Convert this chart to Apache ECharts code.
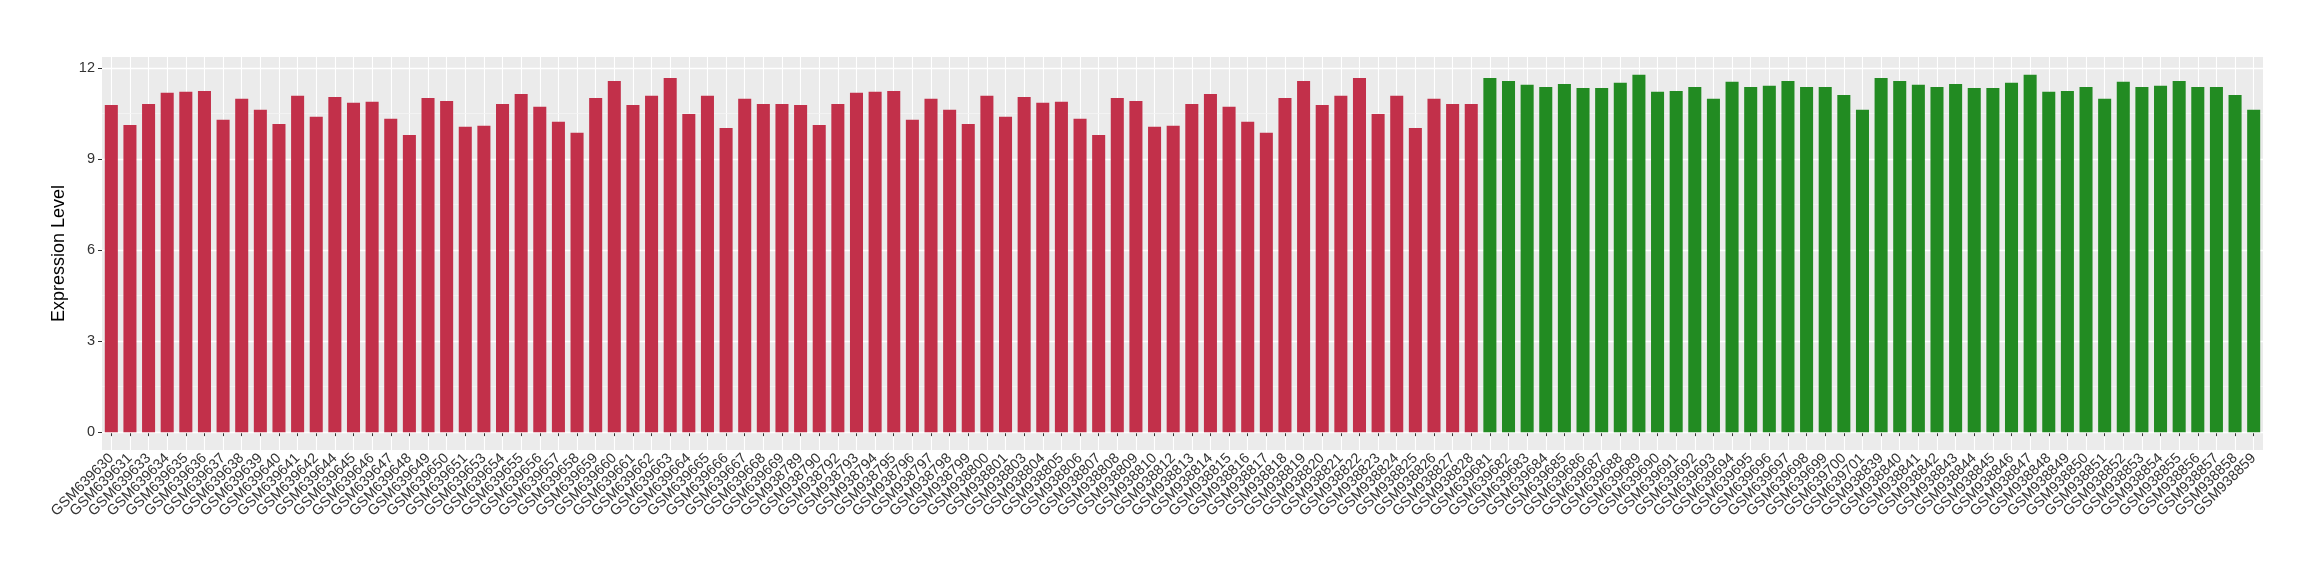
<!DOCTYPE html>
<html>
<head>
<meta charset="utf-8">
<script src="https://cdn.jsdelivr.net/npm/echarts@6/dist/echarts.min.js"></script>
<style>
html,body{margin:0;padding:0;background:#fff;}
#chart{width:2320px;height:580px;}
</style>
</head>
<body>
<div id="chart"></div>
<script>
const redCategories = [
 "GSM639630","GSM639631","GSM639633","GSM639634","GSM639635","GSM639636","GSM639637","GSM639638","GSM639639","GSM639640",
 "GSM639641","GSM639642","GSM639644","GSM639645","GSM639646","GSM639647","GSM639648","GSM639649","GSM639650","GSM639651",
 "GSM639653","GSM639654","GSM639655","GSM639656","GSM639657","GSM639658","GSM639659","GSM639660","GSM639661","GSM639662",
 "GSM639663","GSM639664","GSM639665","GSM639666","GSM639667","GSM639668","GSM639669",
 "GSM938789","GSM938790","GSM938792","GSM938793","GSM938794","GSM938795","GSM938796","GSM938797","GSM938798","GSM938799",
 "GSM938800","GSM938801","GSM938803","GSM938804","GSM938805","GSM938806","GSM938807","GSM938808","GSM938809","GSM938810",
 "GSM938812","GSM938813","GSM938814","GSM938815","GSM938816","GSM938817","GSM938818","GSM938819","GSM938820","GSM938821",
 "GSM938822","GSM938823","GSM938824","GSM938825","GSM938826","GSM938827","GSM938828"
];
const greenCategories = [
 "GSM639681","GSM639682","GSM639683","GSM639684","GSM639685","GSM639686","GSM639687","GSM639688","GSM639689","GSM639690",
 "GSM639691","GSM639692","GSM639693","GSM639694","GSM639695","GSM639696","GSM639697","GSM639698","GSM639699","GSM639700","GSM639701",
 "GSM938839","GSM938840","GSM938841","GSM938842","GSM938843","GSM938844","GSM938845","GSM938846","GSM938847","GSM938848",
 "GSM938849","GSM938850","GSM938851","GSM938852","GSM938853","GSM938854","GSM938855","GSM938856","GSM938857","GSM938858","GSM938859"
];
const redValues = [
 10.79,10.13,10.82,11.19,11.22,11.25,10.30,10.99,10.63,10.16,
 11.09,10.40,11.05,10.86,10.89,10.33,9.80,11.02,10.92,10.07,
 10.10,10.82,11.15,10.73,10.23,9.87,11.02,11.58,10.79,11.09,
 11.68,10.49,11.09,10.03,10.99,10.82,10.82,
 10.79,10.13,10.82,11.19,11.22,11.25,10.30,10.99,10.63,10.16,
 11.09,10.40,11.05,10.86,10.89,10.33,9.80,11.02,10.92,10.07,
 10.10,10.82,11.15,10.73,10.23,9.87,11.02,11.58,10.79,11.09,
 11.68,10.49,11.09,10.03,10.99,10.82,10.82
];
const greenValues = [
 11.68,11.58,11.45,11.38,11.48,11.35,11.35,11.52,11.78,11.22,
 11.25,11.38,10.99,11.55,11.38,11.42,11.58,11.38,11.38,11.12,10.63,
 11.68,11.58,11.45,11.38,11.48,11.35,11.35,11.52,11.78,11.22,
 11.25,11.38,10.99,11.55,11.38,11.42,11.58,11.38,11.38,11.12,10.63
];
const yTicks = [0, 3, 6, 9, 12];
const yMinorLines = [1.5, 4.5, 7.5, 10.5];

const categories = redCategories.concat(greenCategories);
const redData = redValues.concat(greenCategories.map(() => null));
const greenData = redCategories.map(() => null).concat(greenValues);
const allVals = redValues.concat(greenValues);
const vMax = Math.max(...allVals);
const pad = vMax * 0.05;

const FONT = "Liberation Sans, Arial, Helvetica, sans-serif";
const chart = echarts.init(document.getElementById('chart'), null, {renderer: 'canvas'});
chart.setOption({
  animation: false,
  backgroundColor: '#ffffff',
  grid: {
    left: 102, right: 57, top: 57, bottom: 130,
    show: true, backgroundColor: '#EBEBEB', borderWidth: 0
  },
  xAxis: {
    type: 'category',
    data: categories,
    boundaryGap: true,
    axisLine: {show: false},
    axisTick: {show: true, alignWithLabel: true, interval: 0, length: 4, lineStyle: {color: '#333333', width: 1}},
    axisLabel: {interval: 0, rotate: 45, margin: 6, color: '#333333', fontSize: 14.5, fontFamily: FONT},
    splitLine: {show: true, interval: 0, alignWithLabel: true, lineStyle: {color: '#ffffff', width: 1.1}}
  },
  yAxis: {
    type: 'value',
    min: -pad,
    max: vMax + pad,
    name: 'Expression Level',
    nameLocation: 'middle',
    nameGap: 30,
    nameTextStyle: {color: '#000000', fontSize: 18, fontFamily: FONT},
    axisLine: {show: false},
    axisTick: {show: true, customValues: yTicks, length: 4, lineStyle: {color: '#333333', width: 1}},
    axisLabel: {customValues: yTicks, margin: 7, color: '#333333', fontSize: 14.5, fontFamily: FONT},
    splitLine: {show: false}
  },
  series: [
    {
      name: 'red', type: 'bar', data: redData, barWidth: '70%', barGap: '-100%',
      itemStyle: {color: '#C2304A'},
      markLine: {
        silent: true, symbol: 'none', z: 1, animation: false,
        label: {show: false},
        data: yTicks.map(v => ({yAxis: v, lineStyle: {color: '#ffffff', width: 1.4, type: 'solid'}}))
          .concat(yMinorLines.map(v => ({yAxis: v, lineStyle: {color: '#F5F5F5', width: 0.8, type: 'solid'}})))
      }
    },
    {
      name: 'green', type: 'bar', data: greenData, barWidth: '70%', barGap: '-100%',
      itemStyle: {color: '#228B22'}
    }
  ]
});
</script>
</body>
</html>
